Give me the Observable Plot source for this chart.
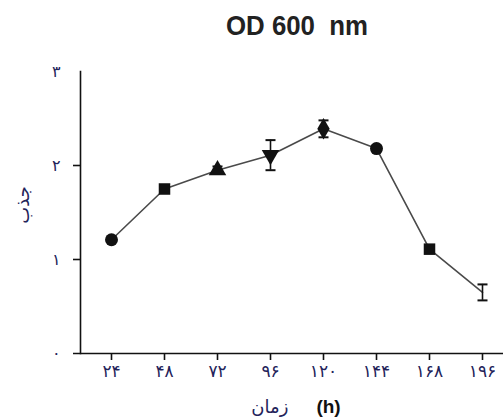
<!DOCTYPE html>
<html>
<head>
<meta charset="utf-8">
<script src="https://cdn.jsdelivr.net/npm/d3@7"></script>
<script src="https://cdn.jsdelivr.net/npm/@observablehq/plot@0.6"></script>
<style>
  html, body { margin: 0; padding: 0; background: #fff; }
  #chart svg { display: block; }
</style>
</head>
<body>
<div id="chart"></div>
<script>
// ---- data ----
const hours = [24, 48, 72, 96, 120, 144, 168, 196];
const hourLabels = ["۲۴", "۴۸", "۷۲", "۹۶", "۱۲۰", "۱۴۴", "۱۶۸", "۱۹۶"];
const od = [1.21, 1.75, 1.95, 2.11, 2.39, 2.18, 1.11, 0.65];
const odErr = [0.02, 0.04, 0.04, 0.16, 0.09, 0.03, 0.04, 0.085];
const symbols = ["circle", "square", "triangle", "triangle", "diamond", "circle", "square", null];
const rotations = [0, 0, 0, 180, 0, 0, 0, 0];
const yTicks = [0, 1, 2, 3];
const yTickLabels = ["۰", "۱", "۲", "۳"];
const titleText = "OD 600  nm";
const yLabelText = "جذب";
const xLabelFa = "زمان";
const xLabelUnit = "(h)";

const data = hours.map((h, i) => ({
  hour: h, od: od[i], err: odErr[i], symbol: symbols[i], rotate: rotations[i]
}));
const labelColor = "#23235a";

// horizontal cap for error bars
const capSymbol = {draw(ctx) { ctx.moveTo(-5, 0); ctx.lineTo(5, 0); }};

const svg = Plot.plot({
  width: 503,
  height: 419,
  marginTop: 71,
  marginBottom: 66,
  marginLeft: 80,
  marginRight: 0,
  style: {background: "#fff", fontFamily: "DejaVu Sans, sans-serif"},
  x: {type: "point", domain: hours, range: [109.5, 482.5], padding: 0, label: null},
  y: {domain: [0, 3], label: null},
  marks: [
    Plot.frame({anchor: "left", stroke: "#111", strokeWidth: 1.6}),
    Plot.ruleY([0], {insetLeft: -7, stroke: "#111", strokeWidth: 1.6}),
    Plot.axisY({ticks: [1, 2], tickSize: 7, stroke: "#111", strokeWidth: 1.6, tickFormat: () => ""}),
    Plot.axisY({ticks: yTicks, tickSize: 0, tickPadding: 20, tickFormat: d => yTickLabels[yTicks.indexOf(d)],
      fontSize: 16, fill: labelColor}),
    Plot.axisX({tickSize: 7, tickPadding: 4, stroke: "#111", strokeWidth: 1.6,
      tickFormat: d => hourLabels[hours.indexOf(d)], fontSize: 17, fill: labelColor}),
    Plot.line(data, {x: "hour", y: "od", stroke: "#4a4a4a", strokeWidth: 1.6}),
    Plot.ruleX(data, {x: "hour", y1: d => d.od - d.err, y2: d => d.od + d.err, stroke: "#111", strokeWidth: 1.6}),
    Plot.dot(data, {x: "hour", y: d => d.od - d.err, symbol: capSymbol, stroke: "#111", strokeWidth: 2, fill: "none"}),
    Plot.dot(data, {x: "hour", y: d => d.od + d.err, symbol: capSymbol, stroke: "#111", strokeWidth: 2, fill: "none"}),
    Plot.dot(data.filter(d => d.symbol), {x: "hour", y: "od", symbol: d => d.symbol, rotate: "rotate", r: 6.5, fill: "#111", stroke: "none"})
  ]
});

const s = d3.select(svg);
s.append("text")
  .attr("x", 297).attr("y", 35)
  .attr("text-anchor", "middle")
  .attr("font-family", "'Liberation Sans Narrow', 'Liberation Sans', Arial, sans-serif")
  .attr("font-weight", "bold")
  .attr("font-size", 28)
  .attr("textLength", 142)
  .attr("lengthAdjust", "spacingAndGlyphs")
  .attr("fill", "#222")
  .style("white-space", "pre")
  .text(titleText);

s.append("text")
  .attr("transform", "translate(29,205) rotate(-90)")
  .attr("text-anchor", "middle")
  .attr("font-family", "DejaVu Sans, sans-serif")
  .attr("font-size", 18)
  .attr("fill", labelColor)
  .text(yLabelText);

const xl = s.append("text")
  .attr("x", 296).attr("y", 413)
  .attr("text-anchor", "middle")
  .attr("font-family", "DejaVu Sans, sans-serif")
  .attr("font-size", 18);
xl.append("tspan").attr("fill", labelColor).text(xLabelFa);
xl.append("tspan").attr("dx", 28).attr("fill", "#111").attr("font-weight", "bold")
  .attr("font-family", "'Liberation Sans', Arial, sans-serif").attr("font-size", 19).text(xLabelUnit);

document.getElementById("chart").appendChild(svg);
</script>
</body>
</html>
